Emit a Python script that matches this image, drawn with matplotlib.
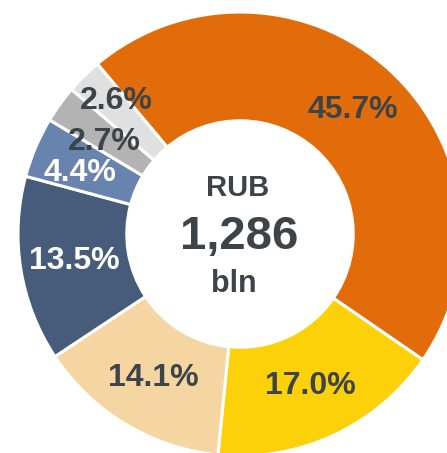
import matplotlib

matplotlib.use("Agg")
import matplotlib.pyplot as plt

plt.rcParams["font.family"] = ["Liberation Sans", "DejaVu Sans"]

# Structure shares, percent of total
shares = [45.7, 17.0, 14.1, 13.5, 4.4, 2.7, 2.6]
colors = ["#e36c0a", "#fcd10a", "#f5d6a2", "#475b7a", "#6783ae", "#b3b3b3", "#e0e0e0"]
label_colors = ["#3c4449", "#3c4449", "#3c4449", "white", "white", "#3c4449", "#3c4449"]
total_value = "1,286"
currency = "RUB"
unit = "bln"

INK = "#3c4449"
W, H = 447, 453

fig = plt.figure(figsize=(W / 100, H / 100), dpi=100)
ax = fig.add_axes([0, 0, 1, 1])

cx, cy, r = 240, H - 234, 222
wedges, _, autotexts = ax.pie(
    shares,
    colors=colors,
    startangle=130,
    counterclock=False,
    center=(cx, cy),
    radius=r,
    autopct="%.1f%%",
    pctdistance=0.755,
    wedgeprops={"width": r * 0.49, "edgecolor": "white", "linewidth": 2.2},
    textprops={"fontsize": 23, "fontweight": "bold"},
    frame=True,
)
ax.set_xlim(0, W)
ax.set_ylim(0, H)
ax.set_aspect("equal")
ax.axis("off")

for t, c in zip(autotexts, label_colors):
    t.set_color(c)

# the thin slices on the left get their labels nudged apart
nudges = {4: (-6, -4), 5: (0, -6), 6: (-6, 14)}
for i, (dx, dy) in nudges.items():
    x, y = autotexts[i].get_position()
    autotexts[i].set_position((x + dx, y + dy))

ax.text(cx - 2, H - 188, currency, ha="center", va="center",
        fontsize=21, fontweight="bold", color=INK)
ax.text(cx - 1, H - 237, total_value, ha="center", va="center",
        fontsize=34, fontweight="bold", color=INK)
ax.text(cx - 6, H - 284, unit, ha="center", va="center",
        fontsize=22, fontweight="bold", color=INK)

fig.savefig("out.png", dpi=100, facecolor="white")
